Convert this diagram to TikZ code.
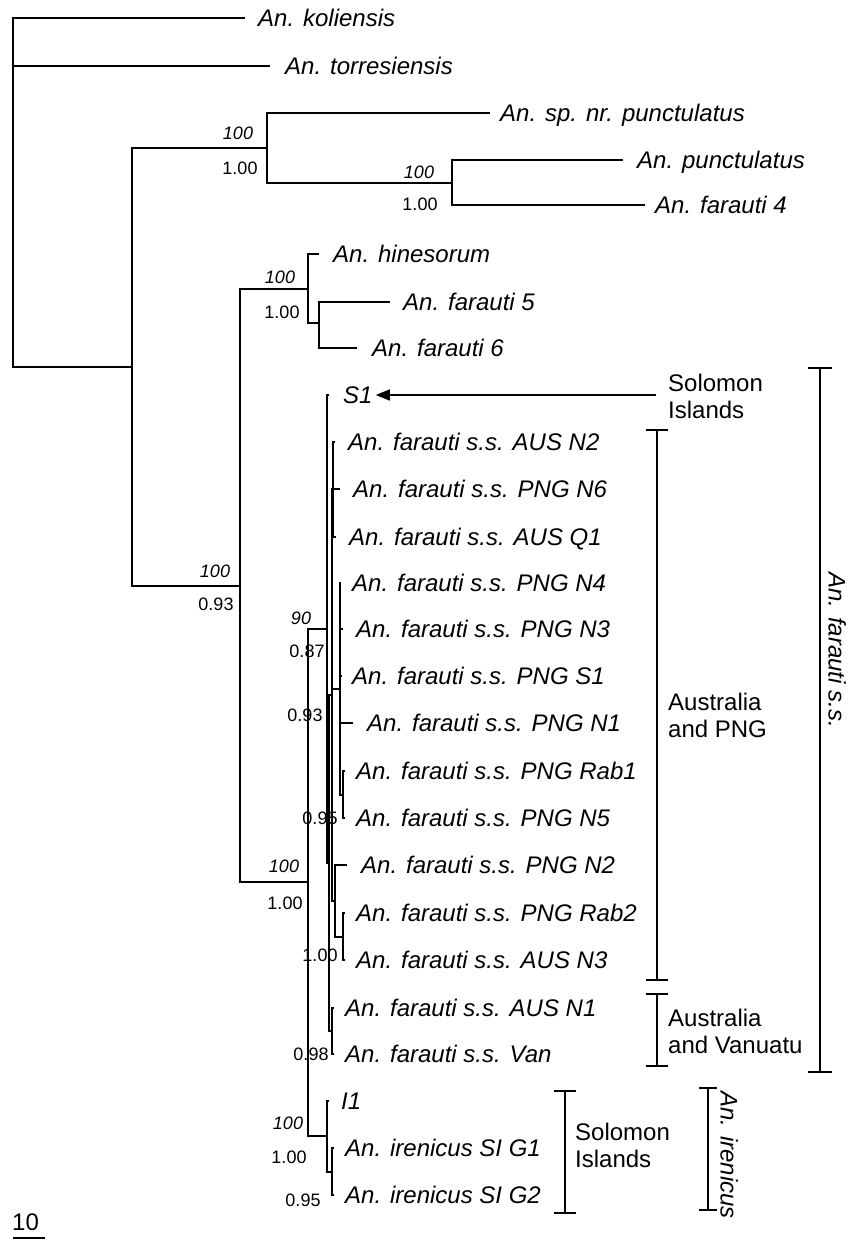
\documentclass[tikz,border=0pt]{standalone}
\usepackage{fontspec}
\setmainfont{Liberation Sans}
\usetikzlibrary{arrows.meta}
\tikzset{
 tree/.style={line width=1.3pt},
 brk/.style={line width=2pt},
 leaf/.style={anchor=west, inner sep=0pt, text height=17pt, text depth=0pt, font=\fontsize{24}{27}\selectfont\itshape},
 bs/.style={inner sep=0pt, text height=13pt, text depth=0pt, font=\fontsize{18}{20}\selectfont},
 bsi/.style={inner sep=0pt, text height=13pt, text depth=0pt, font=\fontsize{18}{20}\selectfont\itshape},
 grp/.style={anchor=west, inner sep=0pt, align=left, font=\fontsize{24}{27}\selectfont},
 rot/.style={rotate=-90, inner sep=0pt, text height=17pt, text depth=0pt, font=\fontsize{24}{27}\selectfont\itshape},
}
\begin{document}
\begin{tikzpicture}[x=1pt,y=-1pt]
\useasboundingbox (0,0) rectangle (848,1241);
% internal nodes
\coordinate (root) at (13,200);
\coordinate (n1) at (132,367);
\coordinate (n2) at (267,148);
\coordinate (n3) at (452,183);
\coordinate (n5) at (240,586);
\coordinate (n6) at (308,289);
\coordinate (n7) at (319,323);
\coordinate (nA) at (308,882);
\coordinate (nB) at (327,629);
\coordinate (nC) at (329,863);
\coordinate (nD) at (332,695);
\coordinate (nE) at (333,489);
\coordinate (nF) at (340,689);
\coordinate (nG) at (343,795);
\coordinate (nH) at (335,901);
\coordinate (nI) at (343,937);
\coordinate (nJ) at (332,1031);
\coordinate (nK) at (327,1136);
\coordinate (nL) at (332,1172);
% tips
\coordinate (tkol) at (245,18);
\coordinate (ttor) at (270,66);
\coordinate (tspn) at (490,113);
\coordinate (tpun) at (623,160);
\coordinate (tf4) at (645,205);
\coordinate (thin) at (319,254);
\coordinate (tf5) at (390,302);
\coordinate (tf6) at (357,348);
\coordinate (tS1) at (329,395);
\coordinate (tAN2) at (335,442);
\coordinate (tN6) at (340,489);
\coordinate (tQ1) at (336,537);
\coordinate (tN4) at (341,583);
\coordinate (tN3) at (343,629);
\coordinate (tPS1) at (342,676);
\coordinate (tN1) at (353,723);
\coordinate (tR1) at (345,771);
\coordinate (tN5) at (345,818);
\coordinate (tN2) at (347,865);
\coordinate (tR2) at (345,913);
\coordinate (tAN3) at (345,960);
\coordinate (tAN1) at (334,1008);
\coordinate (tVan) at (334,1054);
\coordinate (tI1) at (329,1101);
\coordinate (tG1) at (334,1148);
\coordinate (tG2) at (334,1195);
% branches
\draw[tree] (tkol) -| (root) |- (n1);
\draw[tree] (root |- ttor) -- (ttor);
\draw[tree] (n2) -| (n1) |- (n5);
\draw[tree] (tspn) -| (n2) |- (n3);
\draw[tree] (tpun) -| (n3) |- (tf4);
\draw[tree] (n6) -| (n5) |- (nA);
\draw[tree] (thin) -| (n6) |- (n7);
\draw[tree] (tf5) -| (n7) |- (tf6);
\draw[tree] (nB) -| (nA) |- (nK);
\draw[tree] (tS1) -| (nB) |- (nC);
\draw[tree] (nD) -| (nC) |- (nJ);
\draw[tree] (nE) -| (nD) |- (nH);
\draw[tree] (nD |- nF) -- (nF);
\draw[tree] (tAN2) -| (nE) |- (tQ1);
\draw[tree] (nE |- tN6) -- (tN6);
\draw[tree] (tN4) -| (nF) |- (nG);
\draw[tree] (nF |- tN3) -- (tN3);
\draw[tree] (nF |- tPS1) -- (tPS1);
\draw[tree] (nF |- tN1) -- (tN1);
\draw[tree] (tR1) -| (nG) |- (tN5);
\draw[tree] (tN2) -| (nH) |- (nI);
\draw[tree] (tR2) -| (nI) |- (tAN3);
\draw[tree] (tAN1) -| (nJ) |- (tVan);
\draw[tree] (tI1) -| (nK) |- (nL);
\draw[tree] (tG1) -| (nL) |- (tG2);
% leaf labels
\node[leaf] (Lkol) at (258,18) {An. koliensis};
\node[leaf] (Ltor) at (285,66) {An. torresiensis};
\node[leaf] (Lspn) at (500,113) {An. sp. nr. punctulatus};
\node[leaf] (Lpun) at (637,160) {An. punctulatus};
\node[leaf] (Lf4) at (655,205) {An. farauti 4};
\node[leaf] (Lhin) at (333,254) {An. hinesorum};
\node[leaf] (Lf5) at (403,302) {An. farauti 5};
\node[leaf] (Lf6) at (372,348) {An. farauti 6};
\node[leaf] (LS1) at (343,395) {S1};
\node[leaf] (LAN2) at (348,442) {An. farauti s.s. AUS N2};
\node[leaf] (LN6) at (353,489) {An. farauti s.s. PNG N6};
\node[leaf] (LQ1) at (349,537) {An. farauti s.s. AUS Q1};
\node[leaf] (LN4) at (352,583) {An. farauti s.s. PNG N4};
\node[leaf] (LN3) at (356,629) {An. farauti s.s. PNG N3};
\node[leaf] (LPS1) at (352,676) {An. farauti s.s. PNG S1};
\node[leaf] (LN1) at (367,723) {An. farauti s.s. PNG N1};
\node[leaf] (LR1) at (356,771) {An. farauti s.s. PNG Rab1};
\node[leaf] (LN5) at (356,818) {An. farauti s.s. PNG N5};
\node[leaf] (LN2) at (361,865) {An. farauti s.s. PNG N2};
\node[leaf] (LR2) at (356,913) {An. farauti s.s. PNG Rab2};
\node[leaf] (LAN3) at (356,960) {An. farauti s.s. AUS N3};
\node[leaf] (LAN1) at (345,1008) {An. farauti s.s. AUS N1};
\node[leaf] (LVan) at (345,1054) {An. farauti s.s. Van};
\node[leaf] (LI1) at (341,1101) {I1};
\node[leaf] (LG1) at (345,1148) {An. irenicus SI G1};
\node[leaf] (LG2) at (345,1195) {An. irenicus SI G2};
% support values
\node[bsi] (b1) at (238,133) {100};
\node[bs] (b1p) at (240,168) {1.00};
\node[bsi] (b2) at (419,172) {100};
\node[bs] (b2p) at (420,204) {1.00};
\node[bsi] (b3) at (280,277) {100};
\node[bs] (b3p) at (282,312) {1.00};
\node[bsi] (b4) at (215,571) {100};
\node[bs] (b4p) at (216,604) {0.93};
\node[bsi] (b5) at (284,866) {100};
\node[bs] (b5p) at (285,903) {1.00};
\node[bsi] (b6) at (301,618) {90};
\node[bs] (b6p) at (307,651) {0.87};
\node[bs] (b7p) at (305,715) {0.93};
\node[bs] (b8p) at (320,818) {0.95};
\node[bs] (b9p) at (320,955) {1.00};
\node[bs] (b10p) at (311,1054) {0.98};
\node[bsi] (b11) at (288,1123) {100};
\node[bs] (b11p) at (289,1157) {1.00};
\node[bs] (b12p) at (303,1200) {0.95};
% group labels and arrow
\node[grp] (gsol1) at (668,396.5) {Solomon\\Islands};
\coordinate (arrs) at (656,395);
\draw[tree, -{Triangle[length=14pt,width=11pt]}] (arrs) -- ([xshift=3pt]LS1.east);
\node[grp] (gpng) at (668,715) {Australia\\and PNG};
\node[grp] (gvan) at (668,1031) {Australia\\and Vanuatu};
\node[grp] (gsol2) at (575,1145) {Solomon\\Islands};
\node[rot] (rfar) at (837,650) {An. farauti s.s.};
\node[rot] (rire) at (729,1155) {An. irenicus};
% brackets
\draw[brk] (808,368) -- (832,368) (820,368) -- (820,1072) (808,1072) -- (832,1072);
\draw[brk] (646,430) -- (668,430) (657,430) -- (657,980) (646,980) -- (668,980);
\draw[brk] (646,994) -- (668,994) (657,994) -- (657,1066) (646,1066) -- (668,1066);
\draw[brk] (554,1091) -- (576,1091) (565,1091) -- (565,1213) (554,1213) -- (576,1213);
\draw[brk] (699,1088) -- (717,1088) (708,1088) -- (708,1210) (699,1210) -- (717,1210);
% scale
\node[anchor=west, inner sep=0pt, text height=17pt, text depth=0pt, font=\fontsize{24}{27}\selectfont] (scl) at (12,1222) {10};
\draw[tree] (13,1238) -- (45,1238);
\end{tikzpicture}
\end{document}
